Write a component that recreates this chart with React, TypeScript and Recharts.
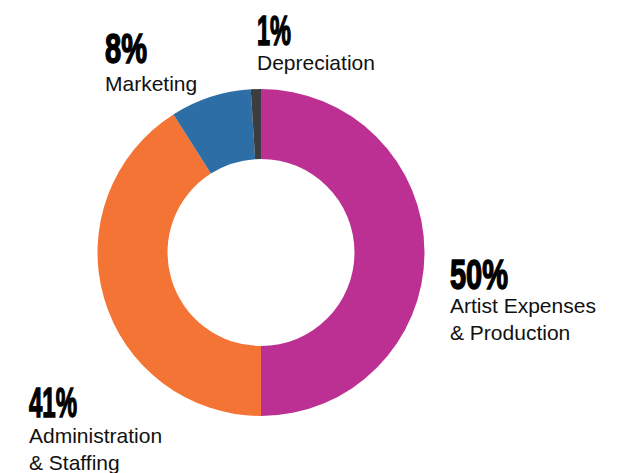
import { PieChart, Pie, Cell } from 'recharts';

const categories = ['Artist Expenses & Production', 'Administration & Staffing', 'Marketing', 'Depreciation'];
const shares = [50, 41, 8, 1];
const pctLabels = ['50%', '41%', '8%', '1%'];
const nameLines = [
    ['Artist Expenses', '& Production'],
    ['Administration', '& Staffing'],
    ['Marketing'],
    ['Depreciation'],
];
const colors = ['#BC3093', '#F47435', '#2E6EA6', '#3D3D3F'];

const data = categories.map((name, i) => ({ name, value: shares[i] }));

// label placement: x, baseline of the percentage, its width, gap to first name line
const labelPos = [
    { x: 450, y: 289, w: 58, gap: 24 },
    { x: 29, y: 417, w: 48, gap: 26 },
    { x: 105, y: 63, w: 42, gap: 28 },
    { x: 257, y: 45, w: 34, gap: 25 },
];

const App = () => {
    return (
        <div style={{ position: 'absolute', left: 0, top: 0, width: 640, height: 473 }}>
            <PieChart width={640} height={473} margin={{ top: 0, right: 0, bottom: 0, left: 0 }}>
                <Pie
                    data={data}
                    dataKey="value"
                    cx={261}
                    cy={252.5}
                    innerRadius={93.5}
                    outerRadius={163.5}
                    startAngle={90}
                    endAngle={-270}
                    stroke="none"
                    isAnimationActive={false}
                >
                    {data.map((d, i) => (
                        <Cell key={d.name} fill={colors[i]} />
                    ))}
                </Pie>
                {labelPos.map((p, i) => (
                    <g key={categories[i]}>
                        <text
                            x={p.x}
                            y={p.y}
                            fontFamily="Liberation Sans, Arial, sans-serif"
                            fontWeight={900}
                            fontSize={42}
                            fill="#000"
                            textLength={p.w}
                            lengthAdjust="spacingAndGlyphs"
                            stroke="#000"
                            strokeWidth={1.5}
                        >
                            {pctLabels[i]}
                        </text>
                        {nameLines[i].map((line, j) => (
                            <text
                                key={line}
                                x={p.x}
                                y={p.y + p.gap + j * 27}
                                fontFamily="Liberation Sans, Arial, sans-serif"
                                fontSize={21}
                                fill="#111"
                            >
                                {line}
                            </text>
                        ))}
                    </g>
                ))}
            </PieChart>
        </div>
    );
};

export default App;
